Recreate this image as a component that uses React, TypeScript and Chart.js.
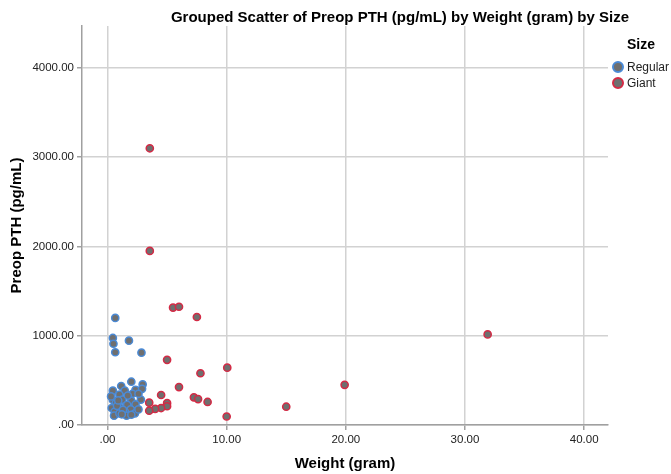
import React, { useEffect, useRef } from "react";
import { Chart, registerables } from "chart.js";

Chart.register(...registerables);

const chartTitle = "Grouped Scatter of Preop PTH (pg/mL) by Weight (gram) by Size";
const xTitle = "Weight (gram)";
const yTitle = "Preop PTH (pg/mL)";
const legendTitle = "Size";
const seriesNames = ["Regular", "Giant"];

// Regular: [weight, PTH]
const regularWeight = [
  0.65, 0.45, 0.5, 0.65, 1.8, 2.85,
  2.0, 1.15, 2.95, 0.45, 1.45, 2.35, 2.9, 1.0, 2.1, 0.45, 1.25, 2.0, 2.8, 0.7,
  1.65, 2.35, 0.35, 1.05, 1.95, 0.6, 1.45, 2.3, 0.55, 1.6, 2.0, 1.0, 0.8, 1.3,
  2.6, 0.3, 1.7, 2.6, 1.2, 0.9,
];
const regularPTH = [
  1200, 975, 910, 815, 945, 810,
  485, 437, 455, 385, 385, 395, 405, 340, 350, 280, 285, 270, 285, 245,
  225, 230, 190, 195, 175, 150, 150, 130, 105, 105, 115, 130, 215, 170,
  175, 320, 330, 350, 120, 275,
];

// Giant: [weight, PTH]
const giantWeight = [
  3.55, 3.55, 5.5, 6.0, 7.5, 5.0, 10.05, 7.8, 6.0, 4.5, 7.25, 7.6, 8.4, 3.5,
  5.0, 5.0, 4.5, 4.0, 3.5, 10.0, 15.0, 19.9, 31.9,
];
const giantPTH = [
  3100, 1950, 1315, 1325, 1210, 730, 642, 580, 425, 336, 310, 290, 258, 250,
  245, 210, 190, 180, 160, 95, 205, 450, 1015,
];

const xTicks = [0, 10, 20, 30, 40];
const yTicks = [0, 1000, 2000, 3000, 4000];

const FONT = 'Arial, "Liberation Sans", sans-serif';
const BLUE = "#4a8ad6";
const RED = "#d42a45";
const FILL = "#6f6f6f";

function toPoints(xs: number[], ys: number[]) {
  return xs.map((x, i) => ({ x, y: ys[i] }));
}

function fmt(v: number) {
  return v === 0 ? ".00" : v.toFixed(2);
}

export default function App() {
  const ref = useRef<HTMLCanvasElement | null>(null);

  useEffect(() => {
    document.body.style.margin = "0";
    const canvas = ref.current;
    if (!canvas) return;

    const overlay = {
      id: "overlay",
      afterDraw(chart: any) {
        const ctx = chart.ctx;
        ctx.save();
        ctx.fillStyle = "#000";
        ctx.font = `bold 15px ${FONT}`;
        ctx.textAlign = "center";
        ctx.textBaseline = "middle";
        ctx.fillText(chartTitle, 400, 18);

        ctx.textAlign = "left";
        ctx.font = `bold 14px ${FONT}`;
        ctx.fillText(legendTitle, 627, 45);
        const colors = [BLUE, RED];
        seriesNames.forEach((name, i) => {
          const y = 67 + i * 16;
          ctx.beginPath();
          ctx.arc(618, y, 5, 0, Math.PI * 2);
          ctx.fillStyle = FILL;
          ctx.fill();
          ctx.lineWidth = 2;
          ctx.strokeStyle = colors[i];
          ctx.stroke();
          ctx.fillStyle = "#222";
          ctx.font = `12px ${FONT}`;
          ctx.fillText(name, 627, y + 1);
        });
        ctx.restore();
      },
    };

    const chart = new Chart(canvas, {
      type: "scatter",
      data: {
        datasets: [
          {
            label: seriesNames[0],
            data: toPoints(regularWeight, regularPTH),
            backgroundColor: FILL,
            borderColor: BLUE,
            borderWidth: 1.5,
            pointRadius: 3.6,
            order: 1,
          },
          {
            label: seriesNames[1],
            data: toPoints(giantWeight, giantPTH),
            backgroundColor: FILL,
            borderColor: RED,
            borderWidth: 1.5,
            pointRadius: 3.6,
            order: 0,
          },
        ],
      },
      plugins: [overlay],
      options: {
        animation: false,
        responsive: false,
        devicePixelRatio: 1,
        layout: { padding: { top: 26, right: 63, left: 0, bottom: 0 } },
        plugins: {
          legend: { display: false },
          title: { display: false },
          tooltip: { enabled: false },
        },
        scales: {
          x: {
            type: "linear",
            min: -2.14,
            max: 42.0,
            afterFit: (s: any) => {
              s.height = 49;
            },
            afterBuildTicks: (s: any) => {
              s.ticks = xTicks.map((value) => ({ value }));
            },
            ticks: {
              callback: (v: any) => fmt(Number(v)),
              font: { size: 11.5, family: FONT },
              color: "#222",
              padding: 3,
              maxRotation: 0,
              autoSkip: false,
            },
            grid: {
              color: "#d2d2d2",
              lineWidth: 1.5,
              tickLength: 5,
              tickColor: "#a0a0a0",
            },
            border: { color: "#a0a0a0", width: 1.5 },
            title: {
              display: true,
              text: xTitle,
              font: { size: 15, weight: "bold", family: FONT },
              color: "#000",
              padding: { top: 0, bottom: 1 },
            },
          },
          y: {
            type: "linear",
            min: 0,
            max: 4470,
            afterFit: (s: any) => {
              s.width = 82;
            },
            afterBuildTicks: (s: any) => {
              s.ticks = yTicks.map((value) => ({ value }));
            },
            ticks: {
              callback: (v: any) => fmt(Number(v)),
              font: { size: 11.5, family: FONT },
              color: "#222",
              padding: 3,
              autoSkip: false,
            },
            grid: {
              color: "#d2d2d2",
              lineWidth: 1.5,
              tickLength: 5,
              tickColor: "#a0a0a0",
            },
            border: { color: "#a0a0a0", width: 1.5 },
            title: {
              display: true,
              text: yTitle,
              font: { size: 15, weight: "bold", family: FONT },
              color: "#000",
              padding: { top: 8, bottom: 0 },
            },
          },
        },
      },
    } as any);

    return () => chart.destroy();
  }, []);

  return (
    <div style={{ position: "absolute", left: 0, top: 0, width: 671, height: 474 }}>
      <canvas ref={ref} width={671} height={474} />
    </div>
  );
}
